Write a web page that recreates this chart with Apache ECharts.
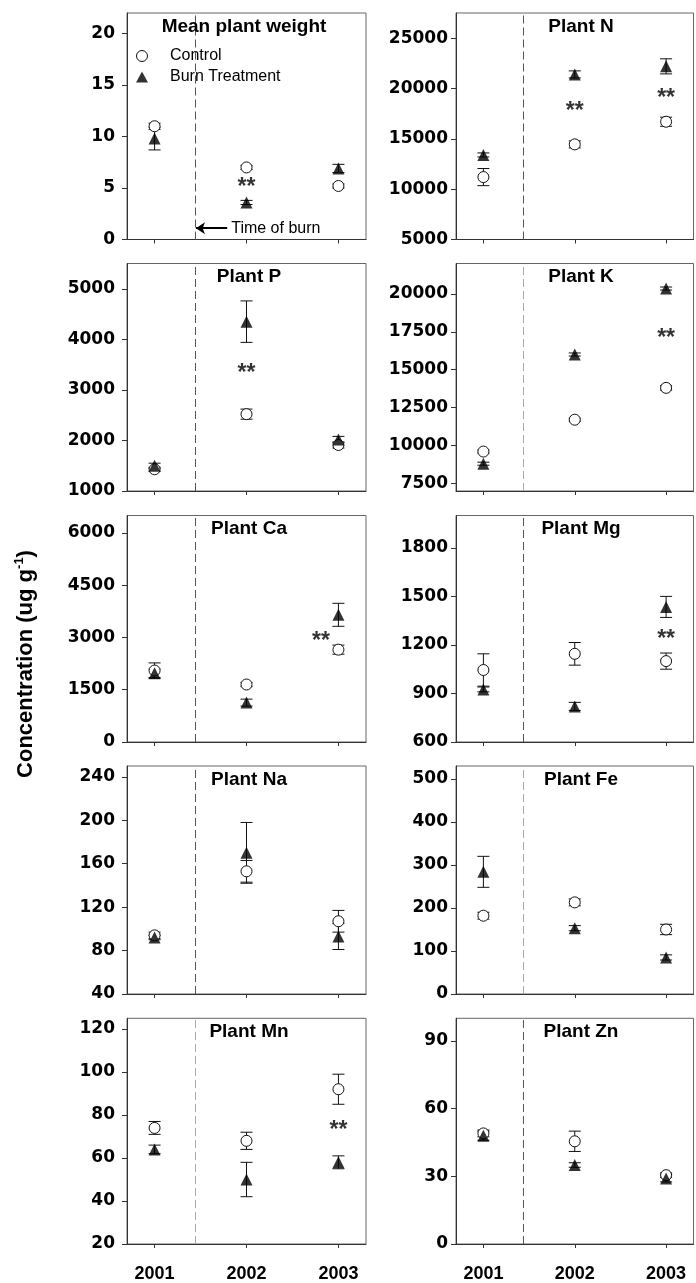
<!DOCTYPE html>
<html><head><meta charset="utf-8">
<script src="https://cdn.jsdelivr.net/npm/echarts@6/dist/echarts.min.js"></script>
<style>html,body{margin:0;padding:0;background:#fff}#c{width:696px;height:1283px}</style>
</head><body><div id="c"></div>
<script>
// ---------------- DATA ----------------
const years = [2001, 2002, 2003];
const xTickLabels = [2001, 2002, 2003];

const weightCtrl = [11.0, 7.0, 5.2],      weightCtrlErr = [0.3, 0.2, 0.2];
const weightBurn = [9.8, 3.6, 6.9],       weightBurnErr = [1.1, 0.2, 0.4];
const weightSig = [[2002, 5.4]];
const weightTicks = [0, 5, 10, 15, 20];

const nCtrl = [11200, 14450, 16700],      nCtrlErr = [850, 350, 450];
const nBurn = [13400, 21400, 22200],      nBurnErr = [200, 350, 750];
const nSig = [[2002, 18050], [2003, 19400]];
const nTicks = [5000, 10000, 15000, 20000, 25000];

const pCtrl = [1430, 2520, 1910],         pCtrlErr = [40, 100, 60];
const pBurn = [1500, 4350, 2020],         pBurnErr = [50, 410, 60];
const pSig = [[2002, 3410]];
const pTicks = [1000, 2000, 3000, 4000, 5000];

const kCtrl = [9600, 11700, 13800],       kCtrlErr = [100, 100, 150];
const kBurn = [8800, 16000, 20350],       kBurnErr = [100, 100, 100];
const kSig = [[2003, 17300]];
const kTicks = [7500, 10000, 12500, 15000, 17500, 20000];

const caCtrl = [2050, 1650, 2650],        caCtrlErr = [220, 60, 130];
const caBurn = [1970, 1130, 3650],        caBurnErr = [120, 100, 330];
const caSig = [[2002.81, 2990]];
const caTicks = [0, 1500, 3000, 4500, 6000];

const mgCtrl = [1045, 1145, 1100],        mgCtrlErr = [100, 70, 50];
const mgBurn = [925, 820, 1435],          mgBurnErr = [15, 25, 65];
const mgSig = [[2003, 1260]];
const mgTicks = [600, 900, 1200, 1500, 1800];

const naCtrl = [94, 153, 107],            naCtrlErr = [3, 10, 10];
const naBurn = [92, 170, 93],             naBurnErr = [2, 28, 12];
const naSig = [];
const naTicks = [40, 80, 120, 160, 200, 240];

const feCtrl = [182, 213, 150],           feCtrlErr = [8, 8, 12];
const feBurn = [284, 153, 85],            feBurnErr = [36, 6, 6];
const feSig = [];
const feTicks = [0, 100, 200, 300, 400, 500];

const mnCtrl = [74, 68, 92],              mnCtrlErr = [3, 4, 7];
const mnBurn = [64, 50, 58],              mnBurnErr = [2, 8, 3];
const mnSig = [[2003, 74.5]];
const mnTicks = [20, 40, 60, 80, 100, 120];

const znCtrl = [49, 45.5, 30.5],          znCtrlErr = [1.5, 4.5, 1];
const znBurn = [48, 35, 29],              znBurnErr = [2, 1, 1.5];
const znSig = [];
const znTicks = [0, 30, 60, 90];

const titles = ['Mean plant weight', 'Plant N', 'Plant P', 'Plant K', 'Plant Ca',
                'Plant Mg', 'Plant Na', 'Plant Fe', 'Plant Mn', 'Plant Zn'];
const burnTime = 2001.44;

// ---------------- PANELS ----------------
const panels = [
  {ctrl: weightCtrl, ce: weightCtrlErr, burn: weightBurn, be: weightBurnErr, sig: weightSig, ticks: weightTicks, min: 0, max: 22, light: false},
  {ctrl: nCtrl, ce: nCtrlErr, burn: nBurn, be: nBurnErr, sig: nSig, ticks: nTicks, min: 5000, max: 27500, light: false},
  {ctrl: pCtrl, ce: pCtrlErr, burn: pBurn, be: pBurnErr, sig: pSig, ticks: pTicks, min: 1000, max: 5500, light: false},
  {ctrl: kCtrl, ce: kCtrlErr, burn: kBurn, be: kBurnErr, sig: kSig, ticks: kTicks, min: 7000, max: 22000, light: true},
  {ctrl: caCtrl, ce: caCtrlErr, burn: caBurn, be: caBurnErr, sig: caSig, ticks: caTicks, min: 0, max: 6500, light: false},
  {ctrl: mgCtrl, ce: mgCtrlErr, burn: mgBurn, be: mgBurnErr, sig: mgSig, ticks: mgTicks, min: 600, max: 2000, light: false},
  {ctrl: naCtrl, ce: naCtrlErr, burn: naBurn, be: naBurnErr, sig: naSig, ticks: naTicks, min: 40, max: 250, light: false},
  {ctrl: feCtrl, ce: feCtrlErr, burn: feBurn, be: feBurnErr, sig: feSig, ticks: feTicks, min: 0, max: 530, light: true},
  {ctrl: mnCtrl, ce: mnCtrlErr, burn: mnBurn, be: mnBurnErr, sig: mnSig, ticks: mnTicks, min: 20, max: 125, light: true},
  {ctrl: znCtrl, ce: znCtrlErr, burn: znBurn, be: znBurnErr, sig: znSig, ticks: znTicks, min: 0, max: 100, light: false}
];

// layout
const rowTops = [13, 263.5, 515.5, 766, 1018.3];
const rowBottoms = [239.5, 491, 742, 994, 1244.3];
const colLeft = [127, 456];
const colWidth = [239, 237.5];
const labelMargin = [12, 8];
const titleX = [249, 581];

function errRender(params, api) {
  const x = api.value(0), m = api.value(1), e = api.value(2);
  const hi = api.coord([x, m + e]);
  const lo = api.coord([x, m - e]);
  const w = 6;
  const st = {stroke: '#111', lineWidth: 1};
  return {type: 'group', children: [
    {type: 'line', shape: {x1: hi[0], y1: hi[1], x2: lo[0], y2: lo[1]}, style: st},
    {type: 'line', shape: {x1: hi[0] - w, y1: hi[1], x2: hi[0] + w, y2: hi[1]}, style: st},
    {type: 'line', shape: {x1: lo[0] - w, y1: lo[1], x2: lo[0] + w, y2: lo[1]}, style: st}
  ]};
}

const grids = [], xAxes = [], yAxes = [], series = [], titleList = [];
panels.forEach((p, i) => {
  const row = Math.floor(i / 2), col = i % 2;
  grids.push({left: colLeft[col], width: colWidth[col], top: rowTops[row],
    height: rowBottoms[row] - rowTops[row], show: true, borderColor: '#666', borderWidth: 1,
    containLabel: false});
  xAxes.push({type: 'value', gridIndex: i, min: 2000.7, max: 2003.3,
    splitLine: {show: false},
    axisLine: {show: true, onZero: false, lineStyle: {color: '#333', width: 1}},
    axisTick: {show: true, customValues: xTickLabels, length: 4, lineStyle: {color: '#333'}},
    axisLabel: {show: row === 4, customValues: xTickLabels, formatter: v => String(v),
      fontSize: 18, fontWeight: 'bold', fontFamily: 'Liberation Sans', color: '#000', margin: 21}
  });
  yAxes.push({type: 'value', gridIndex: i, min: p.min, max: p.max,
    splitLine: {show: false},
    axisLine: {show: true, onZero: false, lineStyle: {color: '#333', width: 1}},
    axisTick: {show: true, customValues: p.ticks, length: 5, lineStyle: {color: '#333'}},
    axisLabel: {show: true, customValues: p.ticks, formatter: v => String(v),
      fontSize: 17, fontWeight: 'bold', fontFamily: 'DejaVu Sans', color: '#000', margin: labelMargin[col]}
  });
  titleList.push({text: titles[i], left: (i === 0 ? 244 : titleX[col]), top: rowTops[row] + 4,
    textAlign: 'center', padding: 0,
    textStyle: {fontSize: 19, fontWeight: 'bold', fontFamily: 'Liberation Sans', color: '#000'}});

  series.push({type: 'custom', xAxisIndex: i, yAxisIndex: i, renderItem: errRender, silent: true,
    encode: {x: 0, y: 1}, data: years.map((y, j) => [y, p.ctrl[j], p.ce[j]])});
  series.push({type: 'scatter', name: 'Control', xAxisIndex: i, yAxisIndex: i, symbol: 'circle', symbolSize: 11,
    itemStyle: {color: '#fff', borderColor: '#111', borderWidth: 1, opacity: 1},
    data: years.map((y, j) => [y, p.ctrl[j]]),
    markLine: {silent: true, symbol: ['none', 'none'], label: {show: false},
      lineStyle: {type: [8, 4], color: p.light ? '#aaa' : '#555', width: 1},
      data: [{xAxis: burnTime}]}
  });
  series.push({type: 'custom', xAxisIndex: i, yAxisIndex: i, renderItem: errRender, silent: true,
    encode: {x: 0, y: 1}, data: years.map((y, j) => [y, p.burn[j], p.be[j]])});
  series.push({type: 'scatter', name: 'Burn Treatment', xAxisIndex: i, yAxisIndex: i, symbol: 'triangle', symbolSize: 12,
    itemStyle: {color: '#000'},
    data: years.map((y, j) => [y, p.burn[j]])});
  const sigSeries = {type: 'scatter', xAxisIndex: i, yAxisIndex: i, symbolSize: 1, silent: true,
    itemStyle: {color: 'rgba(0,0,0,0)'},
    label: {show: true, position: 'inside', formatter: '**', fontSize: 23, fontWeight: 'bold',
      fontFamily: 'Liberation Sans', color: '#000', offset: [0, 4]},
    data: p.sig};
  if (i === 0) {
    sigSeries.markLine = {silent: true, symbol: ['none', 'arrow'], symbolSize: [9, 9],
      lineStyle: {type: 'solid', color: '#000', width: 2},
      label: {show: true, position: 'start', formatter: 'Time of burn', distance: 4,
        fontSize: 16, fontFamily: 'Liberation Sans', color: '#000'},
      data: [[{coord: [2001.79, 1.1]}, {coord: [2001.45, 1.1]}]]};
  }
  series.push(sigSeries);
});

const chart = echarts.init(document.getElementById('c'), null, {renderer: 'canvas'});
chart.setOption({
  animation: false,
  backgroundColor: '#fff',
  title: titleList,
  grid: grids,
  xAxis: xAxes,
  yAxis: yAxes,
  legend: {left: 136, top: 48, padding: 0, orient: 'vertical', itemWidth: 12, itemHeight: 11, itemGap: 5,
    selectedMode: false,
    formatter: '{t|{name}}',
    textStyle: {fontSize: 16, fontFamily: 'Liberation Sans', color: '#000',
      rich: {t: {fontSize: 16, fontFamily: 'Liberation Sans', color: '#000', padding: [0, 0, 0, 17]}}},
    data: [
      {name: 'Control', icon: 'circle', itemStyle: {color: '#fff', borderColor: '#111', borderWidth: 1}},
      {name: 'Burn Treatment', icon: 'triangle', itemStyle: {color: '#000'}}
    ]},
  graphic: [{type: 'text', x: 26, y: 664, rotation: Math.PI / 2,
    style: {text: '{a|Concentration (ug g}{s|-1}{a|)}', align: 'center', verticalAlign: 'middle',
      rich: {a: {fontSize: 22, fontWeight: 'bold', fontFamily: 'Liberation Sans', fill: '#000', lineHeight: 26},
             s: {fontSize: 13, fontWeight: 'bold', fontFamily: 'Liberation Sans', fill: '#000', verticalAlign: 'top', lineHeight: 13}}}}],
  series: series
});
</script></body></html>
